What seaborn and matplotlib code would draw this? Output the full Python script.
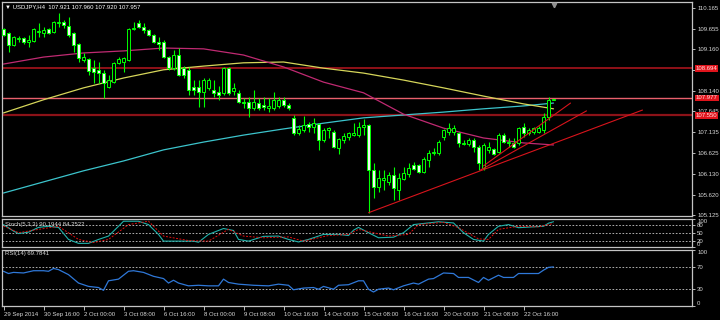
import numpy as np
import matplotlib
matplotlib.use("Agg")
import matplotlib.pyplot as plt
import matplotlib.transforms as mtransforms
import seaborn as sns

# ---------------- data (USDJPY, H4) ----------------
opens = [109.65, 109.56, 109.26, 109.41, 109.43, 109.34, 109.36, 109.58, 109.56, 109.65,
         109.58, 109.80, 109.82, 109.73, 109.56, 109.29, 108.90, 108.92, 108.70, 108.66,
         108.58, 108.24, 108.36, 108.83, 108.85, 108.90, 109.65, 109.80, 109.70, 109.63,
         109.51, 109.34, 109.34, 108.97, 108.70, 109.02, 108.70, 108.66, 108.24, 108.24,
         108.12, 108.22, 108.17, 108.12, 108.10, 108.70, 108.14, 108.10, 107.88, 107.88,
         107.73, 107.85, 107.80, 107.73, 107.73, 107.78, 107.93, 107.80, 107.49, 107.12,
         107.19, 107.34, 107.27, 107.34, 106.95, 107.19, 107.15, 106.76, 106.95, 107.02,
         107.07, 107.07, 107.27, 107.32, 106.22, 105.81, 105.98, 105.93, 106.10, 105.73,
         106.00, 106.12, 106.34, 106.34, 106.17, 106.46, 106.63, 106.63, 107.02, 107.15,
         107.15, 107.12, 106.85, 106.85, 106.95, 106.78, 106.27, 106.71, 106.73, 106.66,
         107.07, 106.88, 106.88, 106.88, 107.27, 107.12, 107.15, 107.15, 107.19, 107.51,
         107.921]
highs = [109.68, 109.58, 109.48, 109.48, 109.46, 109.51, 109.68, 109.80, 109.70, 109.68,
         109.85, 110.04, 109.87, 109.95, 109.58, 109.31, 109.07, 108.95, 108.90, 108.85,
         108.66, 108.53, 108.85, 108.97, 108.97, 109.68, 109.82, 109.87, 109.80, 109.65,
         109.53, 109.46, 109.39, 109.00, 109.14, 109.19, 108.75, 108.73, 108.41, 108.41,
         108.46, 108.46, 108.41, 108.27, 108.73, 108.73, 108.34, 108.17, 107.97, 108.00,
         108.17, 107.97, 108.00, 107.97, 108.12, 108.00, 108.00, 107.85, 107.56, 107.32,
         107.54, 107.39, 107.49, 107.37, 107.24, 107.27, 107.19, 107.00, 107.12, 107.15,
         107.37, 107.39, 107.46, 107.34, 106.39, 106.22, 106.22, 106.17, 106.29, 106.15,
         106.29, 106.39, 106.42, 106.37, 106.54, 106.71, 106.76, 106.95, 107.22, 107.37,
         107.32, 107.15, 106.95, 107.00, 107.00, 106.83, 106.88, 106.90, 106.76, 107.12,
         107.12, 107.00, 107.00, 107.27, 107.37, 107.24, 107.27, 107.29, 107.61, 108.00,
         107.960]
lows = [109.48, 109.09, 109.24, 109.34, 109.29, 109.22, 109.34, 109.46, 109.46, 109.53,
        109.56, 109.70, 109.68, 109.46, 109.09, 108.85, 108.85, 108.53, 108.34, 108.34,
        107.97, 108.22, 108.34, 108.80, 108.61, 108.87, 109.63, 109.68, 109.56, 109.48,
        109.31, 109.14, 108.95, 108.66, 108.66, 108.51, 108.46, 108.05, 108.05, 107.75,
        107.75, 108.17, 108.00, 107.93, 108.05, 108.05, 108.05, 107.85, 107.73, 107.51,
        107.68, 107.68, 107.68, 107.63, 107.68, 107.73, 107.75, 107.68, 107.07, 107.07,
        107.15, 107.15, 107.12, 106.71, 106.90, 107.00, 106.76, 106.61, 106.88, 106.95,
        107.05, 107.02, 107.07, 105.17, 105.54, 105.68, 105.73, 105.85, 105.49, 105.49,
        105.98, 106.05, 106.22, 106.15, 106.15, 106.29, 106.59, 106.59, 106.95, 107.07,
        107.07, 106.78, 106.83, 106.80, 106.66, 106.22, 106.22, 106.63, 106.59, 106.63,
        106.88, 106.78, 106.76, 106.83, 107.02, 107.07, 107.10, 107.12, 107.12, 107.44,
        107.920]
closes = [109.51, 109.26, 109.46, 109.43, 109.34, 109.39, 109.65, 109.61, 109.63, 109.56,
          109.82, 109.82, 109.75, 109.51, 109.26, 108.95, 108.97, 108.63, 108.61, 108.58,
          108.34, 108.41, 108.83, 108.92, 108.95, 109.65, 109.68, 109.70, 109.63, 109.51,
          109.34, 109.29, 108.97, 108.70, 109.02, 108.53, 108.53, 108.17, 108.17, 108.12,
          108.41, 108.41, 108.10, 108.05, 108.70, 108.10, 108.22, 107.88, 107.85, 107.73,
          107.88, 107.73, 107.75, 107.78, 107.93, 107.93, 107.80, 107.73, 107.12, 107.22,
          107.32, 107.27, 107.37, 106.95, 107.19, 107.24, 106.78, 106.98, 107.05, 107.12,
          107.12, 107.27, 107.32, 106.22, 105.81, 106.03, 106.03, 106.10, 105.78, 106.03,
          106.15, 106.27, 106.24, 106.17, 106.49, 106.63, 106.66, 106.90, 107.19, 107.24,
          107.24, 106.88, 106.88, 106.95, 106.78, 106.39, 106.83, 106.78, 106.61, 107.07,
          106.90, 106.90, 106.78, 107.24, 107.12, 107.19, 107.24, 107.24, 107.51, 107.93,
          107.957]

# moving averages, read at every 8th bar
ma_bars = [0, 8, 16, 24, 32, 40, 48, 56, 64, 72, 80, 88, 96, 104, 110]
ma_cyan = [105.66, 105.93, 106.20, 106.44, 106.71, 106.90, 107.07, 107.22, 107.36, 107.49,
           107.56, 107.63, 107.71, 107.78, 107.85]
ma_yellow = [107.61, 107.93, 108.22, 108.46, 108.66, 108.75, 108.83, 108.85, 108.70, 108.58,
             108.41, 108.22, 108.02, 107.83, 107.71]
ma_magenta = [108.80, 108.97, 109.07, 109.12, 109.19, 109.17, 109.02, 108.73, 108.36, 108.10,
              107.58, 107.24, 107.00, 106.88, 106.83]

# horizontal levels and trend lines
level_prices = [108.694, 107.977, 107.550]
level_labels = ["108.694", "107.977", "107.550"]
trend_a_x = [73, 127.8]
trend_a_y = [105.18, 107.68]
trend_b_x = [95.4, 116.6]
trend_b_y = [106.22, 107.66]
trend_c_x = [96.0, 113.4]
trend_c_y = [106.32, 107.85]

price_ticks = [110.165, 109.655, 109.160, 108.650, 108.140, 107.645, 107.135,
               106.625, 106.130, 105.620, 105.125]
hidden_price_ticks = [108.650]   # covered by the 108.694 level label in the chart

# Stochastic(5,3,3)
stoch_main_bars = [0, 2, 3, 5, 7, 9, 11, 13, 15, 17, 19, 21, 23, 24, 27, 29, 31, 32, 35, 38,
                   39, 41, 44, 46, 47, 49, 52, 55, 57, 59, 61, 64, 67, 69, 70, 71, 73, 75, 78,
                   80, 82, 85, 87, 90, 92, 94, 96, 97, 99, 101, 103, 106, 108, 109, 110]
stoch_main = [80, 57, 48, 53, 70, 74, 70, 27, 13, 13, 27, 39, 74, 92, 92, 80, 45, 21, 21, 21,
              17, 45, 66, 59, 27, 21, 38, 39, 27, 18, 27, 45, 45, 41, 60, 70, 51, 33, 35,
              51, 80, 86, 90, 86, 51, 27, 21, 45, 74, 80, 69, 72, 74, 85, 90.19]
stoch_sig_bars = [0, 3, 7, 11, 15, 18, 21, 25, 29, 32, 37, 41, 45, 48, 52, 57, 60, 65, 69,
                  71, 73, 77, 81, 83, 88, 91, 95, 97, 99, 103, 107, 110]
stoch_sig = [75, 51, 63, 74, 27, 16, 27, 80, 92, 39, 23, 21, 63, 39, 33, 36, 21, 41, 45,
             63, 55, 39, 45, 80, 88, 69, 29, 27, 63, 74, 72, 84.25]

# RSI(14)
rsi_bars = [0, 1, 2, 4, 6, 8, 9, 10, 11, 13, 15, 17, 19, 20, 21, 23, 25, 26, 28, 30, 32,
            33, 34, 35, 37, 39, 41, 43, 44, 45, 47, 50, 53, 55, 57, 58, 60, 62, 63, 64, 66,
            67, 69, 71, 72, 73, 74, 75, 77, 78, 80, 82, 83, 85, 86, 88, 90, 91, 93, 95, 96,
            97, 99, 100, 102, 103, 107, 108, 109, 110]
rsi_vals = [62, 58, 60, 59, 63, 63, 62, 67, 65, 56, 41, 35, 33, 28, 45, 48, 62, 63, 60, 53,
            49, 41, 46, 41, 36, 37, 36, 36, 48, 42, 39, 37, 36, 39, 37, 29, 32, 33, 30, 35,
            30, 37, 38, 45, 45, 30, 25, 30, 32, 29, 36, 41, 39, 48, 49, 59, 58, 51, 51, 42,
            51, 46, 55, 51, 51, 58, 58, 64, 69, 69.78]

time_ticks = [0, 8, 16, 24, 32, 40, 48, 56, 64, 72, 80, 88, 96, 104]
time_labels = ["29 Sep 2014", "30 Sep 16:00", "2 Oct 00:00", "3 Oct 08:00", "6 Oct 16:00",
               "8 Oct 00:00", "9 Oct 08:00", "10 Oct 16:00", "14 Oct 00:00", "15 Oct 08:00",
               "16 Oct 16:00", "20 Oct 00:00", "21 Oct 08:00", "22 Oct 16:00"]

# ---------------- style ----------------
sns.set_theme(style="dark")
plt.rcParams["font.family"] = ["Liberation Sans", "DejaVu Sans"]
FG = "#d8d8d8"
SPINE = "#c4c4c4"
FS = 4.3

fig = plt.figure(figsize=(7.2, 3.2), dpi=100, facecolor="black")
L, W = 2 / 720, 690 / 720
ax = fig.add_axes([L, 1 - 216 / 320, W, 214 / 320])
ax_st = fig.add_axes([L, 1 - 247 / 320, W, 28 / 320])
ax_rsi = fig.add_axes([L, 1 - 306 / 320, W, 56 / 320])

XMIN, XMAX = -0.3, 137.7
for a in (ax, ax_st, ax_rsi):
    a.set_facecolor("black")
    a.grid(False)
    a.set_xlim(XMIN, XMAX)
    for s in a.spines.values():
        s.set_color(SPINE)
        s.set_linewidth(0.9)
        s.set_visible(True)
    a.yaxis.tick_right()
    a.tick_params(axis="y", direction="out", length=2.5, width=0.6, colors=FG,
                  labelsize=FS, pad=1.2, right=True, left=False)
    a.set_xlabel("")
    a.set_ylabel("")

# ---------------- main price panel ----------------
o = np.array(opens); h = np.array(highs); l = np.array(lows); c = np.array(closes)
xb = np.arange(len(o))
bull = c >= o
body_lo = np.minimum(o, c)
body_h = np.maximum(np.abs(c - o), 0.012)
ax.vlines(xb, l, h, color="#00ff00", lw=0.8, zorder=3)
ax.bar(xb, body_h, bottom=body_lo, width=0.62,
       color=np.where(bull, "black", "#f4f4f4"), edgecolor="#00ff00",
       linewidth=0.7, zorder=4)

sns.lineplot(x=ma_bars, y=ma_cyan, ax=ax, color="#3cc4cc", lw=0.9, zorder=2)
sns.lineplot(x=ma_bars, y=ma_yellow, ax=ax, color="#d6d65a", lw=0.9, zorder=2)
sns.lineplot(x=ma_bars, y=ma_magenta, ax=ax, color="#c02a72", lw=0.9, zorder=2)

level_colors = ["#a8141c", "#e8606c", "#8c1218"]
level_widths = [1.2, 1.0, 1.6]
for p, col, lw_ in zip(level_prices, level_colors, level_widths):
    ax.axhline(p, color=col, lw=lw_, zorder=1.5)

for tx, ty in ((trend_a_x, trend_a_y), (trend_b_x, trend_b_y), (trend_c_x, trend_c_y)):
    ax.plot(tx, ty, color="#d8141c", lw=0.8, zorder=5)

ax.set_ylim(105.10, 110.311)
ax.set_yticks(price_ticks)
ax.set_yticklabels(["" if v in hidden_price_ticks else f"{v:.3f}" for v in price_ticks])
ax.set_xticks([])

for p, lab in zip(level_prices, level_labels):
    ax.annotate(lab, xy=(1, p), xycoords=("axes fraction", "data"),
                xytext=(4, 0), textcoords="offset pixels", ha="left", va="center",
                fontsize=FS, color="#ffe0e0", annotation_clip=False, zorder=10,
                bbox=dict(boxstyle="square,pad=0.12", fc="#e0141c", ec="none"))

ax.text(0.004, 0.988, "\u25BC USDJPY,H4  107.921 107.960 107.920 107.957",
        transform=ax.transAxes, ha="left", va="top", color="white", fontsize=FS)
trans = mtransforms.blended_transform_factory(ax.transData, ax.transAxes)
ax.plot([110], [0.985], marker="v", color="#909090", markersize=3.2, transform=trans,
        clip_on=False, zorder=6)
ax.set_xlim(XMIN, XMAX)

# ---------------- stochastic ----------------
for lv in (80, 50, 20):
    ax_st.axhline(lv, color="#c8c8c8", lw=0.6, ls=(0, (2, 2)))
sns.lineplot(x=stoch_main_bars, y=stoch_main, ax=ax_st, color="#20b2aa", lw=0.8)
sns.lineplot(x=stoch_sig_bars, y=stoch_sig, ax=ax_st, color="#e01010", lw=0.7,
             linestyle=(0, (2, 1.5)))
ax_st.set_ylim(0, 100)
ax_st.set_yticks([100, 80, 50, 20, 0])
ax_st.set_yticklabels(["100", "80", "50", "20", "0"])
ax_st.set_xticks([])
ax_st.text(0.004, 0.80, "Stoch(5,3,3) 90.1944 84.2522", transform=ax_st.transAxes,
           ha="left", va="center", color=FG, fontsize=FS)
ax_st.set_xlim(XMIN, XMAX)
ax_st.set_xlabel(""); ax_st.set_ylabel("")

# ---------------- RSI ----------------
for lv in (70, 30):
    ax_rsi.axhline(lv, color="#c8c8c8", lw=0.6, ls=(0, (2, 2)))
sns.lineplot(x=rsi_bars, y=rsi_vals, ax=ax_rsi, color="#2f78d8", lw=0.9)
ax_rsi.set_ylim(0, 100)
ax_rsi.set_yticks([100, 70, 30, 0])
ax_rsi.set_yticklabels(["100", "70", "30", "0"])
ax_rsi.text(0.004, 0.93, "RSI(14) 69.7841", transform=ax_rsi.transAxes,
            ha="left", va="center", color=FG, fontsize=FS)
ax_rsi.set_xticks(time_ticks)
ax_rsi.set_xticklabels(time_labels, ha="left")
ax_rsi.tick_params(axis="x", direction="out", length=3, width=0.6, colors=FG,
                   labelsize=FS, pad=1.5, bottom=True)
ax_rsi.set_xlim(XMIN, XMAX)
ax_rsi.set_xlabel(""); ax_rsi.set_ylabel("")

# keep the extreme indicator labels inside their own panels
for a in (ax_st, ax_rsi):
    labs = a.get_yticklabels()
    labs[0].set_va("top")
    labs[-1].set_va("bottom")

fig.savefig("out.png", dpi=100, facecolor="black")
